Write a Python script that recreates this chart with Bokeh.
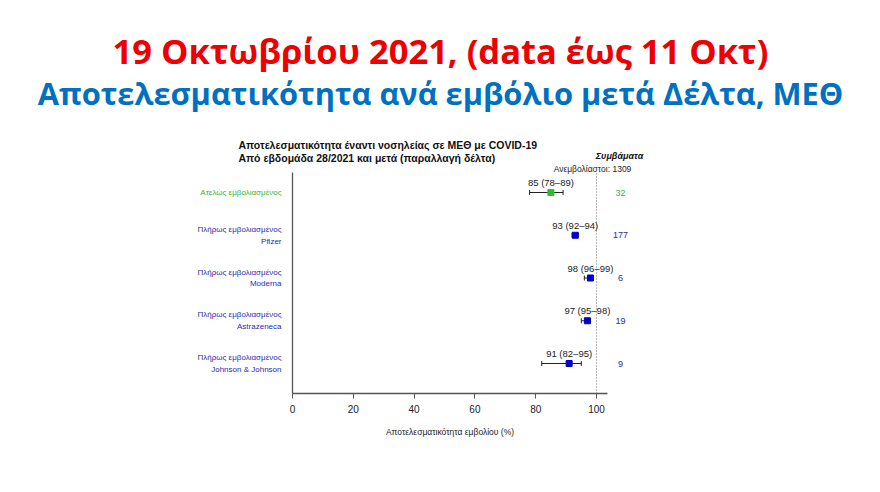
from bokeh.plotting import figure
from bokeh.models import Range1d, LinearAxis, FixedTicker, Whisker, TeeHead, ColumnDataSource, Label
from bokeh.core.properties import value
from bokeh.embed import file_html
from bokeh.resources import INLINE

# ---------------- data ----------------
groups = [
    "Ατελώς εμβολιασμένος",
    "Πλήρως εμβολιασμένος\nPfizer",
    "Πλήρως εμβολιασμένος\nModerna",
    "Πλήρως εμβολιασμένος\nAstrazeneca",
    "Πλήρως εμβολιασμένος\nJohnson & Johnson",
]
estimate = [85, 93, 98, 97, 91]
ci_low = [78, 92, 96, 95, 82]
ci_high = [89, 94, 99, 98, 95]
events = [32, 177, 6, 19, 9]
unvaccinated_events = 1309
x_ticks = [0, 20, 40, 60, 80, 100]
reference_line = 100
x_axis_end = 103.6

main_title_1 = "19 Οκτωβρίου 2021, (data έως 11 Οκτ)"
main_title_2 = "Αποτελεσματικότητα ανά εμβόλιο μετά Δέλτα, ΜΕΘ"
chart_title_1 = "Αποτελεσματικότητα έναντι νοσηλείας σε ΜΕΘ με COVID-19"
chart_title_2 = "Από εβδομάδα 28/2021 και μετά (παραλλαγή δέλτα)"
x_label = "Αποτελεσματικότητα εμβολίου (%)"
events_header = "Συμβάματα"

# ---------------- layout helpers (page pixels) ----------------
W, H = 864, 476
X0 = 292.0          # px of x = 0
PXU = 3.04          # px per percentage point
ROW_TOP = 192.0     # px of first row
ROW_STEP = 42.75    # px between rows
n = len(groups)

def xd(cx):
    return (cx - X0) / PXU

def yd(cy):
    return n - (cy - ROW_TOP) / ROW_STEP

rows = [n - i for i in range(n)]
green, blue = "#2DBE2D", "#0000C8"
green_t, blue_t = "#33B833", "#2A2AB0"
mcolors = [green] + [blue] * (n - 1)
tcolors = [green_t] + [blue_t] * (n - 1)

src = ColumnDataSource(dict(
    y=rows, est=estimate, lo=ci_low, hi=ci_high,
    group=groups, mcolor=mcolors, tcolor=tcolors,
    lab=[f"{e} ({l}–{h})" for e, l, h in zip(estimate, ci_low, ci_high)],
    ev=[str(v) for v in events],
    evx=[xd(620)] * n,
))

p = figure(width=W, height=H, output_backend="svg", toolbar_location=None,
           x_range=Range1d(xd(0), xd(W)), y_range=Range1d(yd(H), yd(0)),
           x_axis_type=None, y_axis_type=None, min_border=0,
           outline_line_color=None, background_fill_color="white")

FONT = value("Liberation Sans")

xaxis = LinearAxis(fixed_location=yd(393), bounds=(0, x_axis_end),
                   ticker=FixedTicker(ticks=x_ticks), axis_label=x_label)
xaxis.axis_line_color = "#555555"
xaxis.axis_line_width = 1.3
xaxis.major_tick_line_color = "#555555"
xaxis.major_tick_in = 0
xaxis.major_tick_out = 5
xaxis.minor_tick_line_color = None
xaxis.major_label_text_font = "Liberation Sans"
xaxis.major_label_text_font_size = "10px"
xaxis.major_label_text_color = "#222222"
xaxis.major_label_standoff = 6
xaxis.axis_label_text_font = "Liberation Sans"
xaxis.axis_label_text_font_size = "8.5px"
xaxis.axis_label_text_font_style = "normal"
xaxis.axis_label_text_color = "#222222"
xaxis.axis_label_standoff = 11
p.add_layout(xaxis, "below")

yaxis = LinearAxis(fixed_location=0, bounds=(yd(393), yd(172)),
                   ticker=FixedTicker(ticks=[]))
yaxis.axis_line_color = "#555555"
yaxis.axis_line_width = 1.3
yaxis.major_tick_line_color = None
yaxis.minor_tick_line_color = None
yaxis.major_label_text_font_size = "0px"
p.add_layout(yaxis, "left")

p.segment(x0=[reference_line], y0=[yd(393)], x1=[reference_line], y1=[yd(172)],
          line_color="#777777", line_dash="1 2", line_width=1)

wh = Whisker(base="y", lower="lo", upper="hi", dimension="width", source=src,
             line_color="#222222", line_width=1,
             upper_head=TeeHead(size=5, line_color="#222222", line_width=1),
             lower_head=TeeHead(size=5, line_color="#222222", line_width=1))
p.add_layout(wh)

p.scatter(x="est", y="y", source=src, marker="square", size=6,
          fill_color="mcolor", line_color="mcolor")

p.text(x="est", y="y", text="lab", source=src, y_offset=-10,
       text_align="center", text_baseline="middle", text_font=FONT,
       text_font_size="9.5px", text_color="#222222")

p.text(x=0, y="y", text="group", source=src, x_offset=-11,
       text_align="right", text_baseline="middle", text_font=FONT,
       text_font_size="8px", text_color="tcolor", text_line_height=1.3)

p.text(x="evx", y="y", text="ev", source=src,
       text_align="center", text_baseline="middle", text_font=FONT,
       text_font_size="9px", text_color="tcolor")

def lab(x, y, text, **kw):
    p.add_layout(Label(x=xd(x), y=yd(y), text=text, **kw))

lab(440, 50, main_title_1, text_align="center", text_baseline="middle",
    text_font="Open Sans", text_font_size="34.5px", text_font_style="bold",
    text_color="#EE0000")
lab(440, 92, main_title_2, text_align="center", text_baseline="middle",
    text_font="Open Sans", text_font_size="30.8px", text_font_style="bold",
    text_color="#0070C0")
lab(238, 144, chart_title_1, text_align="left", text_baseline="middle",
    text_font="Liberation Sans", text_font_size="10.5px", text_font_style="bold",
    text_color="#111111")
lab(238, 157, chart_title_2, text_align="left", text_baseline="middle",
    text_font="Liberation Sans", text_font_size="10.5px", text_font_style="bold",
    text_color="#111111")
lab(619, 155, events_header, text_align="center", text_baseline="middle",
    text_font="Liberation Sans", text_font_size="9px", text_font_style="bold italic",
    text_color="#111111")
lab(592, 168, f"Ανεμβολίαστοι: {unvaccinated_events}", text_align="center",
    text_baseline="middle", text_font="Liberation Sans", text_font_size="8.5px",
    text_color="#222222")

open("out.html", "w").write(file_html(p, INLINE))
